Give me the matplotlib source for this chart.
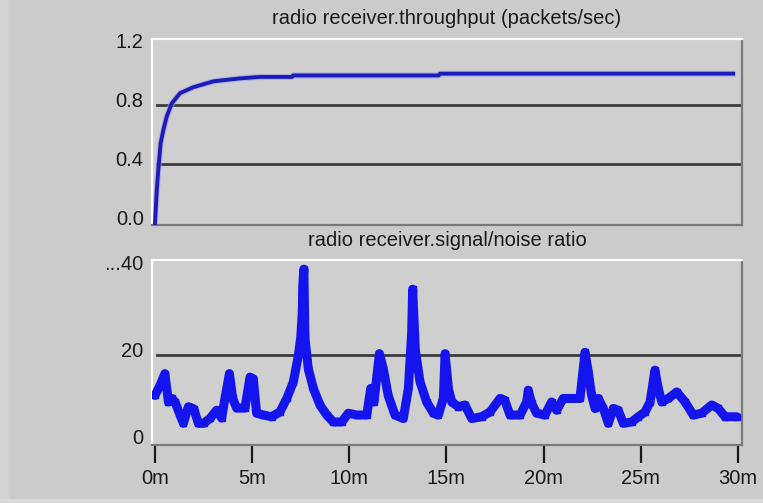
import matplotlib
matplotlib.use("Agg")
import matplotlib.pyplot as plt
import matplotlib.transforms as mtransforms
from matplotlib.patches import Rectangle

plt.rcParams['font.family'] = ['Liberation Sans', 'DejaVu Sans']

# throughput (packets/sec) vs. simulation time (minutes)
tp_time = [0.0, 0.05, 0.09, 0.17, 0.29, 0.43, 0.6, 0.86, 1.29, 1.97, 3.0, 4.37,
           5.4, 7.05, 7.1, 14.6, 14.67, 29.75]
tp_vals = [0.0, 0.12, 0.22, 0.36, 0.54, 0.63, 0.72, 0.81, 0.88, 0.92, 0.96, 0.98,
           0.99, 0.99, 1.0, 1.0, 1.012, 1.012]

# signal/noise ratio vs. simulation time (minutes)
snr_time = [0.0, 0.26, 0.51, 0.69, 0.86, 1.03, 1.29, 1.46, 1.72, 2.0, 2.23, 2.5,
            2.83, 3.17, 3.43, 3.6, 3.83, 4.0, 4.2, 4.63, 4.89, 5.06, 5.23, 5.58,
            6.0, 6.43, 6.78, 7.12, 7.38, 7.5, 7.55, 7.57, 7.59, 7.6, 7.66, 7.72,
            7.89, 8.15, 8.49, 8.84, 9.18, 9.61, 9.95, 10.38, 10.9, 11.1, 11.27,
            11.55, 11.75, 12.0, 12.35, 12.78, 13.04, 13.21, 13.26, 13.4, 13.64,
            13.98, 14.33, 14.58, 14.84, 14.93, 15.1, 15.27, 15.61, 15.95, 16.3,
            16.81, 17.24, 17.76, 18.0, 18.27, 18.79, 19.13, 19.21, 19.38, 19.64,
            20.07, 20.41, 20.67, 21.01, 21.53, 21.87, 22.0, 22.13, 22.3, 22.47,
            22.65, 22.82, 23.07, 23.33, 23.59, 23.84, 24.1, 24.53, 24.88, 25.22,
            25.48, 25.73, 25.9, 26.08, 26.42, 26.85, 27.28, 27.7, 28.13, 28.65,
            28.99, 29.34, 29.94]
snr_vals = [10.7, 13.0, 15.7, 9.2, 10.0, 9.2, 6.2, 4.3, 8.1, 7.6, 4.3, 4.3,
            5.4, 7.3, 5.5, 10.0, 15.7, 10.0, 7.8, 7.8, 14.9, 14.5, 6.6, 6.2,
            5.8, 6.9, 10.0, 13.8, 19.9, 24.0, 27.5, 29.0, 31.3, 35.5, 39.7, 23.8,
            16.8, 12.3, 8.5, 6.2, 4.6, 4.6, 6.6, 6.2, 6.2, 12.3, 9.2,
            20.3, 16.8, 10.7, 6.2, 5.4, 12.3, 25.2, 35.1, 21.0, 13.8,
            9.2, 6.6, 6.2, 10.0, 20.3, 12.3, 9.2, 8.1, 8.5, 5.4,
            5.8, 6.9, 10.0, 9.6, 6.2, 6.2, 9.2, 11.9, 8.9, 6.6,
            6.2, 9.2, 7.3, 10.0, 10.0, 10.0, 15.2, 20.6, 16.1, 10.7,
            7.7, 10.0, 7.7, 4.3, 7.7, 7.3, 4.3, 4.6, 5.8, 6.9,
            9.2, 16.5, 12.3, 9.2, 10.0, 11.5, 9.2, 6.2, 6.6, 8.5,
            7.7, 5.8, 5.8]

x_ticks = [0, 5, 10, 15, 20, 25, 30]
x_labels = ["0m", "5m", "10m", "15m", "20m", "25m", "30m"]
tp_ticks = [0.0, 0.4, 0.8, 1.2]
tp_labels = ["0.0", "0.4", "0.8", "1.2"]
snr_ticks = [0, 20, 40]
snr_labels = ["0", "20", "...40"]

BG = "#cbcbcb"
PANEL = "#cfcfcf"
W, H = 763, 503

fig = plt.figure(figsize=(W / 100, H / 100), dpi=100, facecolor=BG)

# light frame strips at the window edge
fig.patches.append(Rectangle((0, 0), 8 / W, 1, transform=fig.transFigure,
                             color="#d2d2d2", zorder=0))
fig.patches.append(Rectangle((0, 0), 1, 4 / H, transform=fig.transFigure,
                             color="#dadada", zorder=0))

ax1 = fig.add_axes([152 / W, 1 - 225 / H, 590 / W, 186 / H])
ax2 = fig.add_axes([152 / W, 1 - 445 / H, 590 / W, 185 / H])

label_shift = mtransforms.ScaledTranslation(0, 0.05, fig.dpi_scale_trans)

for ax in (ax1, ax2):
    ax.set_facecolor(PANEL)
    ax.set_xlim(-0.154, 30.21)
    ax.spines["left"].set_color("white")
    ax.spines["top"].set_color("white")
    ax.spines["right"].set_color("#7a7a7a")
    ax.spines["bottom"].set_color("#7a7a7a")
    for s in ax.spines.values():
        s.set_linewidth(1.6)
    ax.tick_params(axis="y", length=0, pad=6, labelsize=14.5, colors="#1a1a1a")

# throughput panel
ax1.set_ylim(-0.0136, 1.247)
for v in tp_ticks[1:-1]:
    ax1.axhline(v, xmin=0.008, color="#3c3c3c", lw=2, zorder=1)
ax1.plot(tp_time, tp_vals, color="#a0a0ee", lw=4.5, alpha=0.6, zorder=2)
ax1.plot(tp_time, tp_vals, color="#1c1cb8", lw=2.8, zorder=3)
ax1.set_yticks(tp_ticks)
ax1.set_yticklabels(tp_labels)
ax1.set_xticks([])
ax1.text(0.5, 1 + 21 / 186, "radio receiver.throughput (packets/sec)",
         transform=ax1.transAxes, ha="center", va="center", fontsize=14.5,
         color="#1a1a1a")

# signal/noise panel
ax2.set_ylim(-0.69, 41.8)
ax2.axhline(20, xmin=0.008, color="#3c3c3c", lw=2, zorder=1)
ax2.plot(snr_time, snr_vals, color="#1414ee", lw=6.5, solid_joinstyle="round",
         solid_capstyle="round", zorder=3)
ax2.plot(snr_time, snr_vals, ls="none", marker="s", ms=5, mfc="#1414ee",
         mec="#1414ee", zorder=4)
ax2.set_yticks(snr_ticks)
ax2.set_yticklabels(snr_labels)
ax2.set_xticks(x_ticks)
ax2.set_xticklabels(x_labels)
ax2.tick_params(axis="x", direction="out", length=13, width=1.6, pad=4,
                labelsize=14.5, colors="#1a1a1a")
ax2.text(0.5, 1 + 19 / 185, "radio receiver.signal/noise ratio",
         transform=ax2.transAxes, ha="center", va="center", fontsize=14.5,
         color="#1a1a1a")

for ax in (ax1, ax2):
    for lab in ax.get_yticklabels():
        lab.set_transform(lab.get_transform() + label_shift)

fig.savefig("out.png", dpi=100, facecolor=BG)
